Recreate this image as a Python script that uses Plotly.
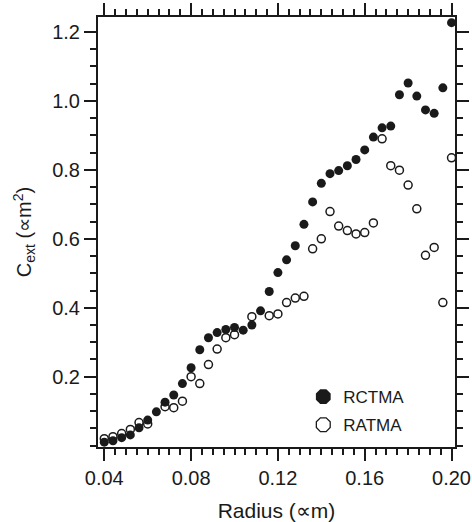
import plotly.graph_objects as go

radius = [0.040, 0.044, 0.048, 0.052, 0.056, 0.060, 0.064, 0.068, 0.072, 0.076,
          0.080, 0.084, 0.088, 0.092, 0.096, 0.100, 0.104, 0.108, 0.112, 0.116,
          0.120, 0.124, 0.128, 0.132, 0.136, 0.140, 0.144, 0.148, 0.152, 0.156,
          0.160, 0.164, 0.168, 0.172, 0.176, 0.180, 0.184, 0.188, 0.192, 0.196,
          0.200]

rctma = [0.010, 0.014, 0.023, 0.031, 0.052, 0.074, 0.098, 0.126, 0.147, 0.180,
         0.226, 0.278, 0.313, 0.328, 0.337, 0.343, 0.335, 0.350, 0.391, 0.447,
         0.502, 0.539, 0.580, 0.642, 0.707, 0.761, 0.789, 0.798, 0.812, 0.830,
         0.858, 0.895, 0.922, 0.927, 1.018, 1.052, 1.014, 0.974, 0.964, 1.038,
         1.227]

ratma = [0.020, 0.026, 0.035, 0.047, 0.067, 0.063, None, 0.113, 0.110, 0.129,
         0.200, 0.180, 0.235, 0.280, 0.313, 0.322, None, 0.374, None, 0.377,
         0.382, 0.415, 0.428, 0.433, 0.571, 0.600, 0.679, 0.637, 0.624, 0.614,
         0.618, 0.646, 0.890, 0.812, 0.799, 0.756, 0.687, 0.552, 0.575, 0.415,
         0.835]

x_ticks = [0.04, 0.08, 0.12, 0.16, 0.20]
x_labels = ["0.04", "0.08", "0.12", "0.16", "0.20"]
y_ticks = [0.2, 0.4, 0.6, 0.8, 1.0, 1.2]
y_labels = ["0.2", "0.4", "0.6", "0.8", "1.0", "1.2"]

FONT = "Liberation Sans, Arial, Helvetica, sans-serif"
INK = "#1a1a1a"

fig = go.Figure()

fig.add_trace(go.Scatter(
    x=radius, y=ratma, mode="markers", showlegend=False,
    marker=dict(symbol="circle", size=8, color="white",
                line=dict(color=INK, width=1.5)),
))
fig.add_trace(go.Scatter(
    x=radius, y=rctma, mode="markers", showlegend=False,
    marker=dict(symbol="circle", size=9, color=INK,
                line=dict(color=INK, width=0)),
))
# legend entries
fig.add_trace(go.Scatter(
    x=[None], y=[None], mode="markers", name="RCTMA", legendgroup="a",
    marker=dict(symbol="octagon", size=16, color=INK,
                line=dict(color=INK, width=0)),
))
fig.add_trace(go.Scatter(
    x=[None], y=[None], mode="markers", name="RATMA", legendgroup="b",
    marker=dict(symbol="octagon", size=15, color="white",
                line=dict(color=INK, width=1.3)),
))

axis_common = dict(
    showgrid=False, zeroline=False, showline=True, linecolor=INK, linewidth=2,
    mirror="ticks", ticks="outside", ticklen=12, tickwidth=2, tickcolor=INK,
    tickfont=dict(family=FONT, size=20, color=INK), automargin=False,
)

fig.update_xaxes(
    **axis_common,
    range=[0.0371, 0.2016],
    tickmode="array", tickvals=x_ticks, ticktext=x_labels,
    minor=dict(dtick=0.005, tick0=0, ticks="outside", ticklen=6,
               tickwidth=1.5, tickcolor=INK),
    title=dict(text="Radius (∝m)", font=dict(family=FONT, size=21, color=INK)),
)
fig.update_yaxes(
    **axis_common,
    range=[-0.004, 1.2435],
    tickmode="array", tickvals=y_ticks, ticktext=y_labels,
    minor=dict(dtick=0.05, tick0=0, ticks="outside", ticklen=6,
               tickwidth=1.5, tickcolor=INK),
    title=dict(text="C<sub>ext</sub> (∝m<sup>2</sup>)",
               font=dict(family=FONT, size=20, color=INK)),
)

fig.update_layout(
    width=472, height=522,
    margin=dict(l=98, r=17, t=17, b=75),
    paper_bgcolor="white", plot_bgcolor="white",
    font=dict(family=FONT, color=INK),
    legend=dict(x=0.575, y=0.158, xanchor="left", yanchor="top",
                bgcolor="rgba(0,0,0,0)",
                font=dict(family=FONT, size=17, color=INK),
                tracegroupgap=3),
)

fig.write_html("out.html")
